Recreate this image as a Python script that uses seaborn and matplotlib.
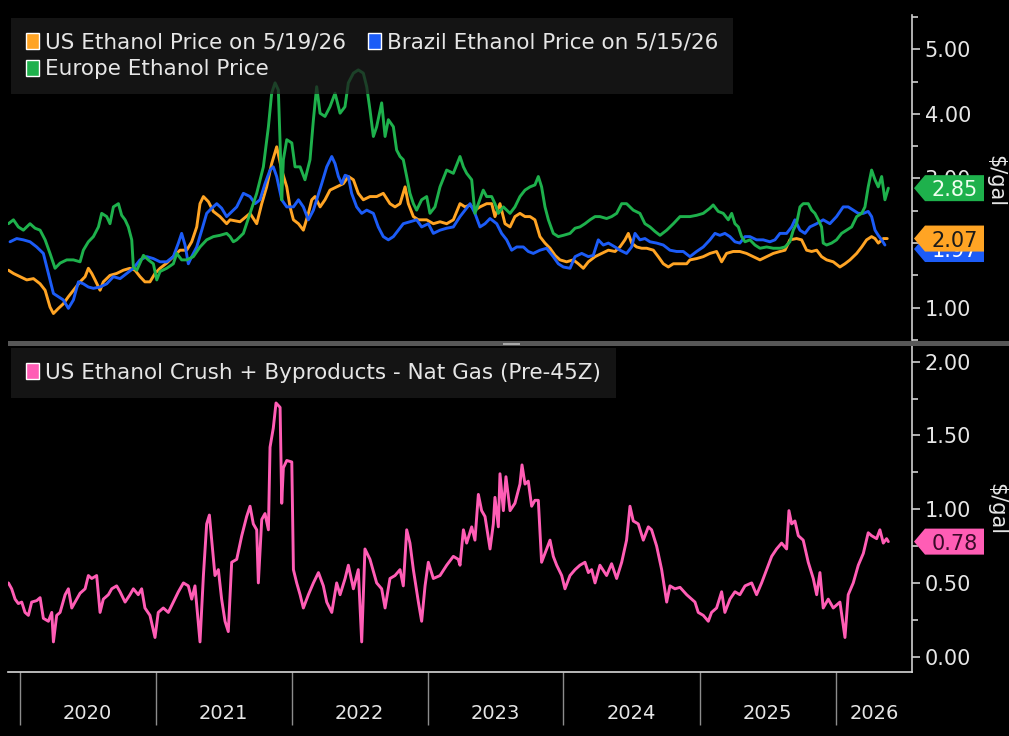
import numpy as np
import pandas as pd
import seaborn as sns
import matplotlib.pyplot as plt
import matplotlib.dates as mdates
from matplotlib.patches import Patch, Polygon, Rectangle
from matplotlib.ticker import (MultipleLocator, FixedLocator, FixedFormatter,
                               NullFormatter, FormatStrFormatter)

# ---- data (x in decimal years) ----
us_t = [2019.918, 2019.955, 2020.004, 2020.053, 2020.102, 2020.151, 2020.188, 2020.224, 2020.249, 2020.286,
        2020.322, 2020.359, 2020.396, 2020.445, 2020.482, 2020.506, 2020.531, 2020.555, 2020.592, 2020.616,
        2020.665, 2020.714, 2020.763, 2020.812, 2020.849, 2020.886, 2020.922, 2020.959, 2020.996, 2021.033,
        2021.082, 2021.131, 2021.180, 2021.229, 2021.266, 2021.303, 2021.327, 2021.352, 2021.389, 2021.425,
        2021.474, 2021.523,
        2021.548, 2021.621, 2021.695, 2021.744, 2021.781, 2021.817, 2021.854, 2021.891, 2021.928, 2021.965,
        2021.989, 2022.014, 2022.051, 2022.087, 2022.124, 2022.149, 2022.173, 2022.210, 2022.246, 2022.283,
        2022.332, 2022.381, 2022.418, 2022.455, 2022.491, 2022.528, 2022.577, 2022.626, 2022.675, 2022.724,
        2022.761, 2022.798, 2022.835, 2022.859, 2022.896, 2022.933, 2022.994, 2023.043, 2023.092, 2023.141,
        2023.190,
        2023.239, 2023.276, 2023.313, 2023.349, 2023.386, 2023.435, 2023.472, 2023.496, 2023.533, 2023.570,
        2023.607, 2023.643, 2023.680, 2023.717, 2023.754, 2023.790, 2023.827, 2023.864, 2023.901, 2023.938,
        2023.974, 2024.023, 2024.072, 2024.109, 2024.146, 2024.183, 2024.232, 2024.281, 2024.330, 2024.379,
        2024.415, 2024.452, 2024.477, 2024.501, 2024.538, 2024.575, 2024.612, 2024.661, 2024.697, 2024.734,
        2024.771, 2024.808, 2024.857, 2024.906,
        2024.930, 2024.979, 2025.028, 2025.077, 2025.126, 2025.163, 2025.199, 2025.248, 2025.297, 2025.346,
        2025.395, 2025.445, 2025.494, 2025.543, 2025.592, 2025.629, 2025.665, 2025.714, 2025.751, 2025.788,
        2025.825, 2025.862, 2025.898, 2025.935, 2025.984, 2026.033, 2026.070, 2026.107, 2026.156, 2026.193,
        2026.229, 2026.266, 2026.291, 2026.315, 2026.352, 2026.381]
us_v = [1.58, 1.53, 1.48, 1.43, 1.45, 1.37, 1.27, 1.01, 0.91, 0.99,
        1.06, 1.17, 1.27, 1.40, 1.48, 1.61, 1.53, 1.43, 1.27, 1.40,
        1.50, 1.53, 1.58, 1.61, 1.58, 1.48, 1.40, 1.40, 1.53, 1.61,
        1.69, 1.79, 1.89, 1.89, 2.02, 2.25, 2.61, 2.72, 2.64, 2.49,
        2.41, 2.30,
        2.36, 2.33, 2.46, 2.30, 2.61, 2.87, 3.23, 3.49, 3.13, 2.87,
        2.56, 2.36, 2.30, 2.20, 2.46, 2.67, 2.72, 2.56, 2.67, 2.82,
        2.87, 2.92, 3.03, 2.98, 2.77, 2.67, 2.72, 2.72, 2.77, 2.61,
        2.56, 2.61, 2.87, 2.61, 2.41, 2.36, 2.36, 2.30, 2.33, 2.30,
        2.36,
        2.61, 2.56, 2.59, 2.51, 2.56, 2.61, 2.61, 2.41, 2.61, 2.30,
        2.25, 2.41, 2.46, 2.41, 2.41, 2.36, 2.10, 2.00, 1.92, 1.81,
        1.74, 1.71, 1.74, 1.68, 1.61, 1.71, 1.79, 1.84, 1.89, 1.87,
        1.94, 2.05, 2.15, 2.00, 1.94, 1.92, 1.92, 1.89, 1.79, 1.68,
        1.63, 1.68, 1.68, 1.68,
        1.74, 1.76, 1.79, 1.84, 1.87, 1.71, 1.84, 1.87, 1.87, 1.84,
        1.79, 1.74, 1.79, 1.84, 1.87, 1.89, 2.05, 2.07, 2.05, 1.89,
        1.87, 1.89, 1.79, 1.74, 1.71, 1.63, 1.68, 1.74, 1.84, 1.94,
        2.05, 2.10, 2.07, 2.00, 2.07, 2.07]

br_t = [2019.930, 2019.979, 2020.028, 2020.077, 2020.126, 2020.175, 2020.200, 2020.224, 2020.249, 2020.286,
        2020.322, 2020.359, 2020.396, 2020.433, 2020.469, 2020.506, 2020.543, 2020.592, 2020.641, 2020.690,
        2020.739, 2020.788, 2020.837, 2020.886, 2020.935, 2020.984, 2021.033, 2021.082, 2021.131, 2021.168,
        2021.192, 2021.217, 2021.241, 2021.266, 2021.303, 2021.340, 2021.376, 2021.413, 2021.450, 2021.486,
        2021.523,
        2021.548, 2021.597, 2021.646, 2021.695, 2021.732, 2021.768, 2021.805, 2021.842, 2021.866, 2021.891,
        2021.928, 2021.965, 2022.014, 2022.051, 2022.087, 2022.124, 2022.161, 2022.185, 2022.222, 2022.259,
        2022.296, 2022.320, 2022.345, 2022.369, 2022.394, 2022.418, 2022.442, 2022.479, 2022.516, 2022.553,
        2022.602, 2022.638, 2022.675, 2022.712, 2022.749, 2022.786, 2022.822, 2022.871, 2022.920, 2022.957,
        2023.006, 2023.043, 2023.092, 2023.141, 2023.190,
        2023.239, 2023.276, 2023.313, 2023.349, 2023.386, 2023.423, 2023.460, 2023.509, 2023.545, 2023.582,
        2023.619, 2023.656, 2023.705, 2023.741, 2023.778, 2023.827, 2023.876, 2023.925, 2023.962, 2023.999,
        2024.048, 2024.085, 2024.134, 2024.183, 2024.219, 2024.256, 2024.293, 2024.330, 2024.379, 2024.415,
        2024.464, 2024.501, 2024.526, 2024.562, 2024.599, 2024.636, 2024.685, 2024.734, 2024.783, 2024.832,
        2024.881,
        2024.930, 2024.979, 2025.028, 2025.077, 2025.114, 2025.150, 2025.187, 2025.224, 2025.261, 2025.297,
        2025.335, 2025.371, 2025.420, 2025.469, 2025.518, 2025.555, 2025.592, 2025.641, 2025.678, 2025.702,
        2025.739, 2025.776, 2025.812, 2025.862, 2025.910, 2025.959, 2026.008, 2026.057, 2026.094, 2026.131,
        2026.168, 2026.205, 2026.241, 2026.266, 2026.291, 2026.315, 2026.340, 2026.364]
br_v = [2.02, 2.07, 2.05, 2.02, 1.94, 1.84, 1.63, 1.43, 1.22, 1.17,
        1.12, 0.99, 1.12, 1.40, 1.37, 1.32, 1.30, 1.32, 1.37, 1.48,
        1.45, 1.53, 1.61, 1.74, 1.79, 1.76, 1.71, 1.71, 1.79, 2.00,
        2.15, 1.97, 1.68, 1.79, 1.94, 2.20, 2.46, 2.54, 2.61, 2.54,
        2.41,
        2.46, 2.56, 2.77, 2.72, 2.61, 2.67, 2.92, 3.13, 3.18, 3.03,
        2.67, 2.56, 2.56, 2.67, 2.56, 2.36, 2.51, 2.67, 2.92, 3.18,
        3.34, 3.23, 3.03, 2.92, 3.05, 3.03, 2.77, 2.56, 2.46, 2.51,
        2.46, 2.25, 2.10, 2.05, 2.10, 2.20, 2.30, 2.33, 2.36, 2.25,
        2.30, 2.15, 2.20, 2.23, 2.25,
        2.41, 2.51, 2.61, 2.46, 2.25, 2.30, 2.38, 2.30, 2.15, 2.05,
        1.89, 1.94, 1.94, 1.87, 1.84, 1.89, 1.92, 1.79, 1.68, 1.63,
        1.61, 1.79, 1.84, 1.79, 1.81, 2.05, 1.97, 2.00, 1.94, 1.89,
        1.84, 1.94, 2.15, 2.05, 2.07, 2.02, 2.00, 1.97, 1.89, 1.87,
        1.87,
        1.79, 1.87, 1.94, 2.05, 2.15, 2.12, 2.15, 2.10, 2.02, 2.00,
        2.10, 2.10, 2.05, 2.05, 2.02, 2.05, 2.15, 2.15, 2.25, 2.36,
        2.20, 2.15, 2.25, 2.30, 2.36, 2.30, 2.41, 2.56, 2.56, 2.51,
        2.46, 2.46, 2.49, 2.41, 2.20, 2.12, 2.05, 1.97]

eu_t = [2019.918, 2019.955, 2019.991, 2020.028, 2020.077, 2020.114, 2020.151, 2020.188, 2020.224, 2020.261,
        2020.298, 2020.347, 2020.396, 2020.445, 2020.469, 2020.506, 2020.543, 2020.580, 2020.604, 2020.641,
        2020.665, 2020.690, 2020.727, 2020.751, 2020.776, 2020.800, 2020.825, 2020.837, 2020.862, 2020.911,
        2020.947, 2020.984, 2021.009, 2021.033, 2021.082, 2021.131, 2021.156, 2021.192, 2021.229, 2021.278,
        2021.327, 2021.376, 2021.425, 2021.474, 2021.523,
        2021.548, 2021.572, 2021.597, 2021.646, 2021.695, 2021.744, 2021.793, 2021.830, 2021.854, 2021.879,
        2021.903, 2021.916, 2021.928, 2021.940, 2021.965, 2022.002, 2022.026, 2022.063, 2022.099, 2022.136,
        2022.161, 2022.185, 2022.210, 2022.246, 2022.283, 2022.320, 2022.357, 2022.393, 2022.418, 2022.455,
        2022.491, 2022.528, 2022.553, 2022.577, 2022.602, 2022.626, 2022.663, 2022.688, 2022.712, 2022.749,
        2022.773, 2022.798, 2022.822, 2022.847, 2022.871, 2022.896, 2022.920, 2022.957, 2022.994, 2023.018,
        2023.055, 2023.092, 2023.141, 2023.190,
        2023.239, 2023.264, 2023.288, 2023.325, 2023.349, 2023.374, 2023.410, 2023.435, 2023.472, 2023.496,
        2023.521, 2023.558, 2023.607, 2023.643, 2023.680, 2023.717, 2023.754, 2023.790, 2023.815, 2023.839,
        2023.864, 2023.889, 2023.925, 2023.962, 2023.999, 2024.048, 2024.085, 2024.121, 2024.158, 2024.195,
        2024.232, 2024.268, 2024.317, 2024.354, 2024.391, 2024.428, 2024.464, 2024.513, 2024.562, 2024.599,
        2024.636, 2024.673, 2024.710, 2024.759, 2024.808, 2024.857, 2024.906,
        2024.930, 2024.979, 2025.028, 2025.077, 2025.101, 2025.138, 2025.175, 2025.212, 2025.237, 2025.261,
        2025.286, 2025.310, 2025.335, 2025.371, 2025.408, 2025.445, 2025.494, 2025.543, 2025.592, 2025.629,
        2025.665, 2025.690, 2025.714, 2025.739, 2025.763, 2025.800, 2025.825, 2025.849, 2025.874, 2025.898,
        2025.910, 2025.935, 2025.972, 2026.008, 2026.045, 2026.082, 2026.119, 2026.156, 2026.193, 2026.217,
        2026.241, 2026.266, 2026.291, 2026.315, 2026.340, 2026.364, 2026.389]
eu_v = [2.30, 2.36, 2.25, 2.20, 2.30, 2.23, 2.20, 2.05, 1.84, 1.61,
        1.69, 1.74, 1.74, 1.71, 1.89, 2.02, 2.10, 2.25, 2.46, 2.41,
        2.30, 2.56, 2.61, 2.43, 2.36, 2.25, 2.05, 1.63, 1.58, 1.81,
        1.74, 1.68, 1.43, 1.56, 1.61, 1.68, 1.84, 1.74, 1.74, 1.79,
        1.94, 2.05, 2.10, 2.12, 2.15,
        2.10, 2.02, 2.05, 2.15, 2.46, 2.77, 3.18, 3.80, 4.32, 4.48,
        4.37, 3.55, 2.67, 3.29, 3.60, 3.55, 3.18, 3.18, 2.98, 3.29,
        3.91, 4.42, 4.01, 3.96, 4.11, 4.32, 4.01, 4.11, 4.48, 4.63,
        4.68, 4.63, 4.42, 4.06, 3.65, 3.80, 4.17, 3.65, 3.91, 3.80,
        3.44, 3.34, 3.29, 3.03, 2.77, 2.61, 2.51, 2.67, 2.72, 2.46,
        2.56, 2.87, 3.13, 3.08,
        3.34, 3.18, 3.08, 2.98, 2.46, 2.61, 2.82, 2.72, 2.72, 2.61,
        2.46, 2.56, 2.46, 2.56, 2.72, 2.82, 2.87, 2.90, 3.03, 2.87,
        2.56, 2.36, 2.15, 2.10, 2.12, 2.15, 2.23, 2.25, 2.30, 2.36,
        2.41, 2.41, 2.38, 2.41, 2.46, 2.61, 2.61, 2.51, 2.46, 2.30,
        2.25, 2.18, 2.12, 2.20, 2.30, 2.41, 2.41,
        2.41, 2.43, 2.46, 2.54, 2.59, 2.49, 2.46, 2.36, 2.46, 2.30,
        2.25, 2.10, 2.02, 2.05, 1.97, 1.92, 1.94, 1.92, 1.92, 1.94,
        2.02, 2.20, 2.30, 2.56, 2.61, 2.61, 2.51, 2.46, 2.36, 2.25,
        2.00, 1.97, 2.00, 2.05, 2.15, 2.20, 2.25, 2.41, 2.46, 2.56,
        2.87, 3.13, 2.98, 2.87, 3.03, 2.67, 2.85]

crush_t = [2019.918, 2019.942, 2019.967, 2019.991, 2020.016, 2020.040, 2020.065, 2020.089, 2020.126, 2020.151,
           2020.175, 2020.212, 2020.237, 2020.249, 2020.273, 2020.298, 2020.335, 2020.359, 2020.384, 2020.408,
           2020.445, 2020.482, 2020.506, 2020.531, 2020.567, 2020.592, 2020.616, 2020.653, 2020.678, 2020.714,
           2020.739, 2020.776, 2020.812, 2020.837, 2020.873, 2020.898, 2020.922, 2020.959, 2020.996, 2021.020,
           2021.057, 2021.094, 2021.131, 2021.168, 2021.205, 2021.241, 2021.266, 2021.290, 2021.327, 2021.352,
           2021.376, 2021.396, 2021.413, 2021.437, 2021.462, 2021.486, 2021.511, 2021.535,
           2021.560, 2021.597, 2021.634, 2021.670, 2021.695, 2021.719, 2021.744, 2021.756, 2021.781, 2021.805,
           2021.830, 2021.842, 2021.866, 2021.886, 2021.916, 2021.928, 2021.940, 2021.965, 2022.002, 2022.014,
           2022.038, 2022.063, 2022.087, 2022.124, 2022.161, 2022.198, 2022.234, 2022.259, 2022.296, 2022.332,
           2022.357, 2022.394, 2022.418, 2022.455, 2022.491, 2022.516, 2022.540, 2022.577, 2022.626, 2022.663,
           2022.688, 2022.724, 2022.761, 2022.798, 2022.822, 2022.847, 2022.871, 2022.896, 2022.933, 2022.957,
           2022.982, 2023.006, 2023.043, 2023.092, 2023.141, 2023.190, 2023.226,
           2023.239, 2023.264, 2023.288, 2023.325, 2023.349, 2023.374, 2023.398, 2023.423, 2023.460, 2023.484,
           2023.496, 2023.521, 2023.533, 2023.558, 2023.577, 2023.607, 2023.643, 2023.680, 2023.695, 2023.717,
           2023.741, 2023.766, 2023.790, 2023.815, 2023.839, 2023.864, 2023.901, 2023.925, 2023.950, 2023.987,
           2024.011, 2024.048, 2024.085, 2024.121, 2024.158, 2024.183, 2024.207, 2024.232, 2024.268, 2024.317,
           2024.354, 2024.391, 2024.428, 2024.464, 2024.489, 2024.513, 2024.550, 2024.587, 2024.624, 2024.648,
           2024.685, 2024.722, 2024.759, 2024.783, 2024.820, 2024.857, 2024.906,
           2024.967, 2024.991, 2025.028, 2025.065, 2025.089, 2025.126, 2025.163, 2025.187, 2025.224, 2025.261,
           2025.297, 2025.335, 2025.384, 2025.420, 2025.457, 2025.494, 2025.531, 2025.567, 2025.604, 2025.641,
           2025.658, 2025.678, 2025.702, 2025.727, 2025.763, 2025.800, 2025.837, 2025.862, 2025.886, 2025.910,
           2025.947, 2025.984, 2026.033, 2026.070, 2026.094, 2026.131, 2026.168, 2026.205, 2026.241, 2026.266,
           2026.303, 2026.327, 2026.352, 2026.376, 2026.389]
crush_v = [0.50, 0.46, 0.39, 0.36, 0.37, 0.30, 0.28, 0.37, 0.38, 0.40,
           0.26, 0.24, 0.30, 0.10, 0.28, 0.30, 0.42, 0.46, 0.33, 0.37,
           0.43, 0.46, 0.55, 0.53, 0.55, 0.30, 0.39, 0.42, 0.46, 0.48,
           0.44, 0.37, 0.42, 0.46, 0.42, 0.46, 0.33, 0.28, 0.13, 0.30,
           0.33, 0.30, 0.37, 0.44, 0.50, 0.48, 0.39, 0.48, 0.10, 0.55,
           0.90, 0.96, 0.79, 0.55, 0.59, 0.39, 0.24, 0.17,
           0.64, 0.66, 0.82, 0.95, 1.02, 0.90, 0.86, 0.50, 0.93, 0.97,
           0.86, 1.42, 1.55, 1.72, 1.69, 1.04, 1.28, 1.33, 1.32, 0.59,
           0.50, 0.42, 0.33, 0.42, 0.50, 0.57, 0.48, 0.37, 0.30, 0.50,
           0.42, 0.53, 0.62, 0.46, 0.59, 0.10, 0.73, 0.66, 0.50, 0.46,
           0.33, 0.53, 0.55, 0.59, 0.48, 0.86, 0.77, 0.59, 0.37, 0.24,
           0.48, 0.64, 0.53, 0.55, 0.62, 0.68, 0.66,
           0.62, 0.86, 0.77, 0.88, 0.79, 1.10, 0.99, 0.95, 0.73, 0.90,
           1.08, 0.88, 1.24, 0.99, 1.22, 0.99, 1.04, 1.17, 1.30, 1.17,
           1.19, 1.02, 1.06, 1.06, 0.64, 0.70, 0.79, 0.68, 0.62, 0.55,
           0.46, 0.55, 0.59, 0.62, 0.64, 0.57, 0.59, 0.50, 0.62, 0.55,
           0.63, 0.53, 0.64, 0.79, 1.02, 0.92, 0.90, 0.79, 0.88, 0.86,
           0.75, 0.59, 0.37, 0.48, 0.46, 0.47, 0.42,
           0.37, 0.30, 0.28, 0.24, 0.30, 0.33, 0.44, 0.30, 0.39, 0.44,
           0.42, 0.48, 0.50, 0.42, 0.50, 0.59, 0.68, 0.73, 0.77, 0.73,
           0.99, 0.90, 0.92, 0.82, 0.79, 0.64, 0.53, 0.42, 0.57, 0.33,
           0.39, 0.33, 0.37, 0.13, 0.42, 0.50, 0.62, 0.70, 0.84, 0.82,
           0.80, 0.86, 0.77, 0.80, 0.78]

last_us, last_br, last_eu, last_crush = 2.07, 1.97, 2.85, 0.78
years = [2020, 2021, 2022, 2023, 2024, 2025, 2026]

us_color = '#ffa424'
br_color = '#1c5cf7'
eu_color = '#1eb14c'
crush_color = '#ff5db5'


def to_dates(t):
    t = np.asarray(t, dtype=float)
    return pd.Timestamp('2020-01-01') + pd.to_timedelta((t - 2020.0) * 365.25, unit='D')


top = pd.concat([
    pd.DataFrame({'date': to_dates(us_t), 'price': us_v, 'series': 'us'}),
    pd.DataFrame({'date': to_dates(br_t), 'price': br_v, 'series': 'br'}),
    pd.DataFrame({'date': to_dates(eu_t), 'price': eu_v, 'series': 'eu'}),
], ignore_index=True)
bottom = pd.DataFrame({'date': to_dates(crush_t), 'margin': crush_v})

sns.set_style('dark', {'axes.facecolor': 'black', 'figure.facecolor': 'black'})
plt.rcParams['font.family'] = ['DejaVu Sans']

W, H = 1009, 736
fig = plt.figure(figsize=(W / 100, H / 100), dpi=100)
fig.patch.set_facecolor('black')
ax1 = fig.add_axes([8 / W, 1 - 340 / H, 904 / W, 325 / H])
ax2 = fig.add_axes([8 / W, 1 - 672 / H, 904 / W, 327 / H])

sns.lineplot(data=top, x='date', y='price', hue='series', hue_order=['us', 'br', 'eu'],
             palette={'us': us_color, 'br': br_color, 'eu': eu_color},
             estimator=None, linewidth=2.1, legend=False, ax=ax1)
sns.lineplot(data=bottom, x='date', y='margin', color=crush_color,
             estimator=None, linewidth=2.1, ax=ax2)

x_start = to_dates([2019.915])[0]
x_end = to_dates([2026.563])[0]

for ax in (ax1, ax2):
    ax.set_xlim(x_start, x_end)
    ax.grid(False)
    ax.set_facecolor('black')
    ax.set_xlabel('')
    ax.set_ylabel('')
    for side in ('top', 'left', 'bottom'):
        ax.spines[side].set_visible(False)
    ax.spines['right'].set_visible(True)
    ax.spines['right'].set_color('#cfcfcf')
    ax.spines['right'].set_linewidth(1.2)
    ax.yaxis.tick_right()
    ax.yaxis.set_major_formatter(FormatStrFormatter('%.2f'))
    ax.tick_params(axis='y', which='both', right=True, left=False, direction='out',
                   color='#cfcfcf', labelcolor='#e6e6e6', labelsize=15, width=1.2)
    ax.tick_params(axis='y', which='major', length=6, pad=3)
    ax.tick_params(axis='y', which='minor', length=4)

ax1.set_ylim(0.5, 5.53)
ax1.yaxis.set_major_locator(MultipleLocator(1))
ax1.yaxis.set_minor_locator(MultipleLocator(0.5))
ax1.tick_params(axis='x', which='both', bottom=False, labelbottom=False)

ax2.set_ylim(-0.104, 2.113)
ax2.yaxis.set_major_locator(MultipleLocator(0.5))
ax2.yaxis.set_minor_locator(MultipleLocator(0.25))
ax2.spines['bottom'].set_visible(True)
ax2.spines['bottom'].set_color('#d8d8d8')
ax2.spines['bottom'].set_linewidth(1.2)

# year boundaries as long ticks, year names centred between them
starts = [pd.Timestamp(f'{y}-01-01') for y in years]
bounds = [mdates.date2num(d) for d in starts] + [mdates.date2num(x_end)]
mids = [(a + b) / 2 for a, b in zip(bounds[:-1], bounds[1:])]
ax2.xaxis.set_major_locator(FixedLocator(bounds[:-1]))
ax2.xaxis.set_major_formatter(NullFormatter())
ax2.xaxis.set_minor_locator(FixedLocator(mids))
ax2.xaxis.set_minor_formatter(FixedFormatter([str(y) for y in years]))
ax2.tick_params(axis='x', which='major', bottom=True, direction='out', length=38,
                width=1, color='#8c8c8c')
ax2.tick_params(axis='x', which='minor', bottom=True, length=0, pad=23,
                labelsize=14, labelcolor='#e6e6e6')

# legends
top_handles = [Patch(facecolor=us_color, label='US Ethanol Price on 5/19/26'),
               Patch(facecolor=eu_color, label='Europe Ethanol Price'),
               Patch(facecolor=br_color, label='Brazil Ethanol Price on 5/15/26')]
leg_kw = dict(loc='upper left', bbox_to_anchor=(0, 1), borderaxespad=0.15, frameon=True,
              fancybox=False, facecolor='#1c1c1c', edgecolor='none', framealpha=0.75,
              fontsize=15.5, labelcolor='#e6e6e6', handlelength=0.6, handleheight=0.75,
              handletextpad=0.3, columnspacing=1.0, borderpad=0.68, labelspacing=0.3)
ax1.legend(handles=top_handles, ncol=2, **leg_kw)
ax2.legend(handles=[Patch(facecolor=crush_color,
                          label='US Ethanol Crush + Byproducts - Nat Gas (Pre-45Z)')], **leg_kw)

# panel separator
fig.add_artist(Rectangle((8 / W, 1 - 346 / H), (W - 8) / W, 4.5 / H, transform=fig.transFigure,
                         facecolor='#575757', edgecolor='none'))
fig.add_artist(Rectangle((503 / W, 1 - 345 / H), 17 / W, 2.5 / H, transform=fig.transFigure,
                         facecolor='#a8a8a8', edgecolor='none'))

# unit labels
fig.text(995 / W, 1 - 181 / H, '$/gal', rotation=270, ha='center', va='center',
         fontsize=15, color='#e6e6e6')
fig.text(996 / W, 1 - 509 / H, '$/gal', rotation=270, ha='center', va='center',
         fontsize=15, color='#e6e6e6')


# last-value tags on the right axis; later tags sit on top of earlier ones
def value_tag(ax, value, face, text_color, layer, shift=0):
    xr = mdates.date2num(x_end)
    px, py = ax.transData.transform((xr, value))
    py -= shift
    tip, neck, end, half = px + 2, px + 13, 984, 13
    verts = [(tip, py), (neck, py + half), (end, py + half), (end, py - half), (neck, py - half)]
    fig.add_artist(Polygon([(x / W, y / H) for x, y in verts], closed=True,
                           transform=fig.transFigure, facecolor=face, edgecolor='none',
                           zorder=10 + 2 * layer))
    fig.text((neck + end) / 2 / W, py / H, f'{value:.2f}', color=text_color, fontsize=15,
             ha='center', va='center_baseline', zorder=11 + 2 * layer)


value_tag(ax1, last_eu, eu_color, '#f0fff0', 0)
value_tag(ax1, last_br, br_color, '#ffffff', 1, shift=4)
value_tag(ax1, last_us, us_color, '#1a1a1a', 2)
value_tag(ax2, last_crush, crush_color, '#3a0a28', 3)

fig.savefig('out.png', dpi=100, facecolor='black')
